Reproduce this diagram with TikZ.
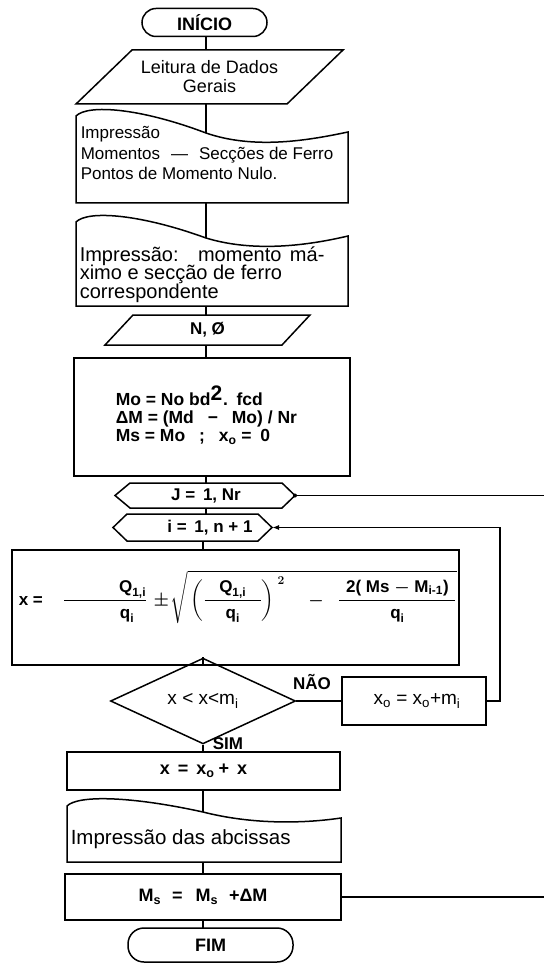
\documentclass[tikz,border=0pt]{standalone}
\usepackage{amsmath}
\usepackage{fontspec}
\setmainfont{Liberation Sans}
\usetikzlibrary{calc,shapes.geometric,arrows.meta}
\begin{document}
\begin{tikzpicture}[x=1pt,y=-1pt,line width=1.5pt,
  frame/.style={draw=none, inner sep=0pt, outer sep=0pt},
  boxed/.style={draw, inner sep=0pt, outer sep=0pt},
  term/.style={draw, rounded corners=14pt, inner sep=0pt, outer sep=0pt, font=\fontsize{18}{20}\selectfont\bfseries},
  lab/.style={inner sep=0pt, font=\fontsize{17}{19}\selectfont\bfseries},
  arr/.style={-{Latex[length=7pt,width=5pt]}}]
\fill[white] (0,0) rectangle (544,965);
\useasboundingbox (0,0) rectangle (544,965);
\coordinate (mA) at (206,0);
\coordinate (mB) at (203,0);

% start
\node[term, minimum width=125pt, minimum height=28pt] (start) at (204.5,22.5) {INÍCIO};

% read general data
\node[frame, minimum width=155pt, minimum height=54pt, align=center, font=\fontsize{18}{19}\selectfont] (p1) at (209.5,77) {Leitura de Dados\\Gerais};
\draw (p1.north west) -- ($(p1.north east)+(56,0)$) -- (p1.south east) -- ($(p1.south west)+(-56,0)$) -- cycle;

% tape 1
\node[frame, minimum width=272pt, minimum height=95pt] (t1) at (212,155.5) {};
\draw (76,203) -- (76,116) .. controls (88,104) and (140,108) .. (206,133) .. controls (255,150) and (310,140) .. (348,132) -- (348,203) -- cycle;
\coordinate (t1w) at (206,133);
\node[anchor=north west, inner sep=0pt, align=left, font=\fontsize{17}{20.5}\selectfont] (t1txt) at (80,126) {Impressão\\Momentos\hspace{11pt}—\hspace{11pt}Secções de Ferro\\Pontos de Momento Nulo.};

% tape 2
\node[frame, minimum width=272pt, minimum height=96pt] (t2) at (212,258) {};
\draw (76,306) -- (76,222) .. controls (88,210) and (140,214) .. (206,238) .. controls (255,253) and (310,245) .. (348,236) -- (348,306) -- cycle;
\coordinate (t2w) at (206,238);
\node[anchor=north west, inner sep=0pt, align=left, font={\fontsize{20}{18.5}\selectfont\lineskiplimit=-100pt}] (t2txt) at (79,246) {Impressão:\hspace{12pt} momento\hspace{3pt} má-\\ximo e secção de ferro\\correspondente};

% N, O
\node[frame, minimum width=149pt, minimum height=30pt, font=\fontsize{17}{19}\selectfont\bfseries] (n) at (207.5,330) {N, Ø};
\draw (n.north west) -- ($(n.north east)+(28,0)$) -- (n.south east) -- ($(n.south west)+(-28,0)$) -- cycle;

% process box
\node[boxed, minimum width=276pt, minimum height=118pt] (proc) at (212,417) {};
\node[anchor=west, inner sep=0pt, align=left, font={\fontsize{17.5}{18}\selectfont\bfseries\lineskiplimit=-100pt}] (proctxt) at (115,415) {Mo = No bd{\fontsize{21}{21}\selectfont\raisebox{5pt}{2}}\hspace{1pt}. \hspace{2pt}fcd\\ΔM = (Md\hspace{9pt} −\hspace{9pt} Mo) / Nr\\Ms = Mo\hspace{9pt} ;\hspace{9pt} x$_{\text{o}}$ = \hspace{4pt}0};

% loop J
\node[frame, minimum width=152pt, minimum height=25pt, font=\fontsize{17}{19}\selectfont\bfseries] (jhex) at (206,495.5) {J = \hspace{3pt}1, Nr};
\coordinate (jtip) at ($(jhex.east)+(13,0)$);
\draw (jhex.north west) -- (jhex.north east) -- (jtip) -- (jhex.south east) -- (jhex.south west) -- ($(jhex.west)+(-15,0)$) -- cycle;
\coordinate (jout) at (544,495.5);

% loop i
\node[frame, minimum width=131pt, minimum height=27pt] (ihex) at (192.5,527.5) {};
\node[lab] (itxt) at (210,527.5) {i = \hspace{3pt}1, n + 1};
\coordinate (itip) at ($(ihex.east)+(14,0)$);
\draw (ihex.north west) -- (ihex.north east) -- (itip) -- (ihex.south east) -- (ihex.south west) -- ($(ihex.west)+(-14,0)$) -- cycle;

% formula box
\node[boxed, minimum width=447pt, minimum height=115pt] (form) at (235.5,607.5) {};
\node[anchor=west, inner sep=0pt, font=\fontsize{17}{19}\selectfont\bfseries\boldmath] (ftxt) at (18,597) {$\text{x =}\hspace{20pt}\dfrac{\makebox[82pt][r]{$\text{Q}_{\text{1,i}}$}}{\makebox[82pt][r]{$\text{q}_{\text{i}}$\hspace{12pt}}}\hspace{2pt}\pm\!\sqrt{\rule{0pt}{31pt}\left(\dfrac{\makebox[56pt][c]{$\text{Q}_{\text{1,i}}$}}{\text{q}_{\text{i}}}\right)^{\hspace{3pt}2}\hspace{19pt}-\hspace{10pt}\dfrac{\makebox[116pt][c]{2( Ms $-$ M$_{\text{i-1}}$)}}{\text{q}_{\text{i}}}}$};

% decision
\node[draw, diamond, inner sep=0pt, minimum width=185pt, minimum height=58pt, font=\fontsize{19}{21}\selectfont] (dec) at (203,701) {x < x<m$_{\text{i}}$};
\node[lab] (nao) at (312,682) {NÃO};
\node[lab] (sim) at (228,744) {SIM};

% x0 update
\node[boxed, minimum width=144pt, minimum height=48pt, font=\fontsize{19}{21}\selectfont] (xo) at (414,701) {\hspace{6pt}x$_{\text{o}}$ = x$_{\text{o}}$+m$_{\text{i}}$};
\coordinate (ret) at (500,600);

% x = x0 + x
\node[boxed, minimum width=273pt, minimum height=38pt, font=\fontsize{18}{20}\selectfont\bfseries] (xbox) at (203.5,771) {x\hspace{8pt}=\hspace{8pt}x$_{\text{o}}$\hspace{4pt}+\hspace{8pt}x};

% tape 3
\node[frame, minimum width=274pt, minimum height=70pt] (t3) at (204,827) {};
\draw (67,862) -- (67,806) .. controls (78,795) and (130,796) .. (203,812) .. controls (250,824) and (300,824) .. (341,818) -- (341,862) -- cycle;
\coordinate (t3w) at (203,812);
\node[anchor=west, inner sep=0pt, font=\fontsize{20.5}{22}\selectfont] (t3txt) at (70,839) {Impressão das abcissas};

% Ms update
\node[boxed, minimum width=276pt, minimum height=46pt, font=\fontsize{18}{20}\selectfont\bfseries] (ms) at (203,897) {M$_{\text{s}}$\hspace{6pt} =\hspace{8pt} M$_{\text{s}}$\hspace{6pt} +ΔM};
\coordinate (msout) at (544,897);

% end
\node[term, minimum width=165pt, minimum height=34pt, rounded corners=16pt] (fim) at (210.5,945) {FIM};

% connectors
\draw (start.south -| mA) -- (p1.north -| mA);
\draw (p1.south -| mA) -- (t1w);
\draw (t1.south -| mA) -- (t2w);
\draw (t2.south -| mA) -- (n.north -| mA);
\draw (n.south -| mA) -- (proc.north -| mA);
\draw (proc.south -| mA) -- (jhex.north -| mA);
\draw (jhex.south -| mA) -- (ihex.north -| mA);
\draw (jtip) -- (jout);
\fill (jtip) circle (2pt);
\draw (ihex.south -| mB) -- (form.north -| mB);
\draw (form.south -| dec.north) -- (dec.north);
\draw (dec.east) -- (xo.west);
\draw[arr] (xo.east) -| (ret) |- (itip);
\draw (dec.south) -- (dec.south |- xbox.north);
\draw (xbox.south -| t3w) -- (t3w);
\draw (t3.south -| mB) -- (ms.north -| mB);
\draw (ms.east) -- (msout);
\draw (ms.south -| mB) -- (fim.north -| mB);
\end{tikzpicture}
\end{document}
